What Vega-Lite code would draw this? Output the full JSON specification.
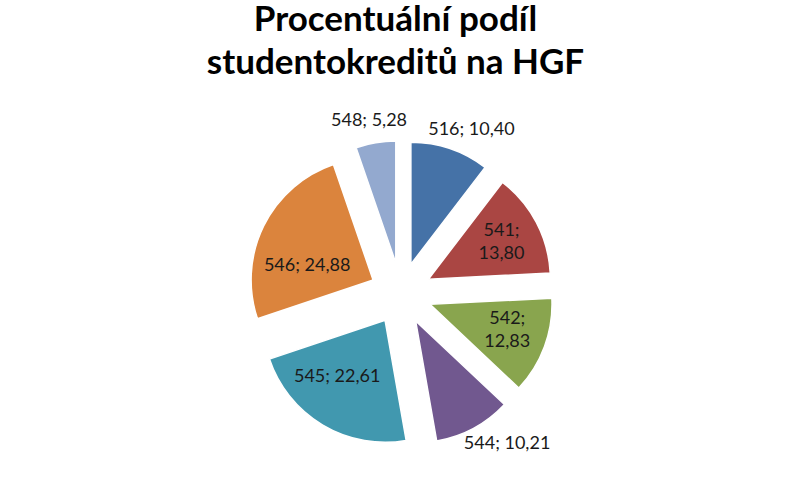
{
  "$schema": "https://vega.github.io/schema/vega-lite/v6.json",
  "description": "Exploded pie chart of the share of student credits per department at HGF",
  "width": 791,
  "height": 390,
  "autosize": {"type": "pad"},
  "padding": {"top": 3, "left": 0, "right": 0, "bottom": 0},
  "background": "white",
  "config": {"view": {"stroke": null}},
  "title": {
    "text": ["Procentuální podíl", "studentokreditů na HGF"],
    "font": "Lato",
    "fontSize": 35,
    "fontWeight": "bold",
    "color": "#000000",
    "lineHeight": 43,
    "anchor": "middle",
    "offset": 8
  },
  "data": {
    "values": [
      {"kod": "516", "podil": 10.40},
      {"kod": "541", "podil": 13.80},
      {"kod": "542", "podil": 12.83},
      {"kod": "544", "podil": 10.21},
      {"kod": "545", "podil": 22.61},
      {"kod": "546", "podil": 24.88},
      {"kod": "548", "podil": 5.28}
    ]
  },
  "transform": [
    {"joinaggregate": [{"op": "sum", "field": "podil", "as": "celkem"}]},
    {"window": [{"op": "sum", "field": "podil", "as": "konec"}], "sort": [{"field": "kod"}]},
    {"calculate": "datum.konec - datum.podil", "as": "zacatek"},
    {"calculate": "(datum.zacatek + datum.konec) / 2", "as": "stred"},
    {"calculate": "datum.stred / datum.celkem * 2 * PI", "as": "uhel"},
    {"calculate": "sin(datum.uhel)", "as": "ex"},
    {"calculate": "cos(datum.uhel)", "as": "ey"},
    {"calculate": "datum.kod + '; ' + replace(format(datum.podil, '.2f'), '.', ',')", "as": "popisek"}
  ],
  "encoding": {
    "x": {"field": "ex", "type": "quantitative", "scale": {"domain": [-12.93, 12.58]}, "axis": null},
    "y": {"field": "ey", "type": "quantitative", "scale": {"domain": [-5.98, 6.60]}, "axis": null}
  },
  "layer": [
    {
      "mark": {"type": "arc", "outerRadius": 122, "stroke": "white", "strokeWidth": 1.5},
      "encoding": {
        "theta": {"field": "zacatek", "type": "quantitative", "scale": {"domain": [0, 100.01]}},
        "theta2": {"field": "konec"},
        "color": {
          "field": "kod",
          "type": "nominal",
          "legend": null,
          "scale": {
            "domain": ["516", "541", "542", "544", "545", "546", "548"],
            "range": ["#4572A7", "#AA4643", "#89A54E", "#71588F", "#4198AF", "#DB843D", "#93A9CF"]
          }
        },
        "tooltip": [
          {"field": "kod", "type": "nominal", "title": "Katedra"},
          {"field": "podil", "type": "quantitative", "title": "Podíl (%)"}
        ]
      }
    },
    {
      "transform": [{"filter": "datum.kod == '546'"}],
      "mark": {"type": "text", "radius": 78, "dx": 4, "dy": 21, "font": "Lato", "fontSize": 18, "color": "#1a1a1a", "align": "center", "baseline": "middle"},
      "encoding": {
        "theta": {"field": "stred", "type": "quantitative"},
        "text": {"field": "popisek"}
      }
    },
    {
      "transform": [{"filter": "datum.kod == '545'"}],
      "mark": {"type": "text", "radius": 78, "dx": -8, "dy": -10, "font": "Lato", "fontSize": 18, "color": "#1a1a1a", "align": "center", "baseline": "middle"},
      "encoding": {
        "theta": {"field": "stred", "type": "quantitative"},
        "text": {"field": "popisek"}
      }
    },
    {
      "transform": [
        {"filter": "datum.kod == '541' || datum.kod == '542'"},
        {"calculate": "datum.kod + ';\\n' + replace(format(datum.podil, '.2f'), '.', ',')", "as": "popisek2"}
      ],
      "mark": {"type": "text", "radius": 77, "dx": 5, "dy": -12, "font": "Lato", "fontSize": 18, "color": "#1a1a1a", "align": "center", "baseline": "middle", "lineBreak": "\n", "lineHeight": 23},
      "encoding": {
        "theta": {"field": "stred", "type": "quantitative"},
        "text": {"field": "popisek2"}
      }
    },
    {
      "transform": [{"filter": "datum.kod == '516'"}],
      "mark": {"type": "text", "radius": 142, "dx": 15, "font": "Lato", "fontSize": 18, "color": "#1a1a1a", "align": "center", "baseline": "middle"},
      "encoding": {
        "theta": {"field": "stred", "type": "quantitative"},
        "text": {"field": "popisek"}
      }
    },
    {
      "transform": [{"filter": "datum.kod == '548'"}],
      "mark": {"type": "text", "radius": 144, "dx": -3, "font": "Lato", "fontSize": 18, "color": "#1a1a1a", "align": "center", "baseline": "middle"},
      "encoding": {
        "theta": {"field": "stred", "type": "quantitative"},
        "text": {"field": "popisek"}
      }
    },
    {
      "transform": [{"filter": "datum.kod == '544'"}],
      "mark": {"type": "text", "radius": 140, "dx": 25, "font": "Lato", "fontSize": 18, "color": "#1a1a1a", "align": "center", "baseline": "middle"},
      "encoding": {
        "theta": {"field": "stred", "type": "quantitative"},
        "text": {"field": "popisek"}
      }
    }
  ]
}
